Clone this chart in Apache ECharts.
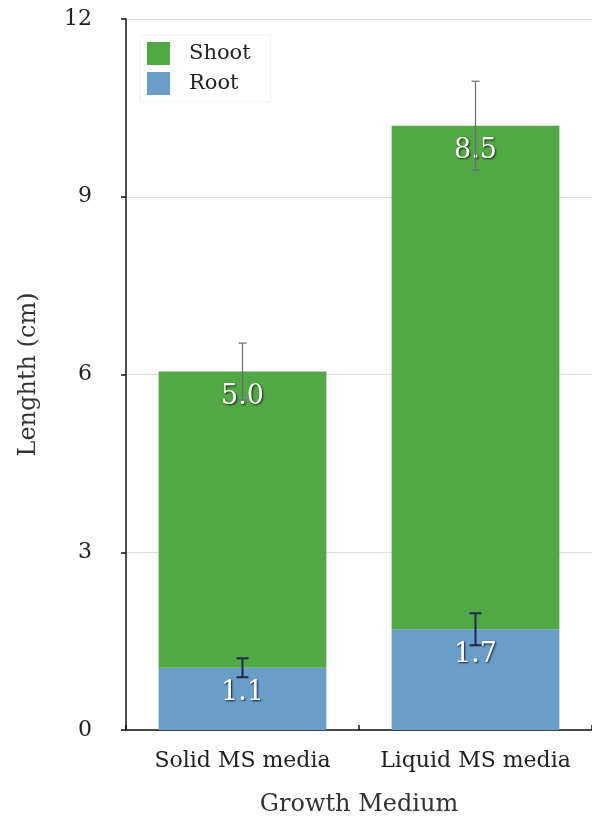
<!DOCTYPE html>
<html>
<head>
<meta charset="utf-8">
<script src="https://cdn.jsdelivr.net/npm/echarts@6/dist/echarts.min.js"></script>
<style>
  html, body { margin: 0; padding: 0; background: #fff; }
  #chart { width: 592px; height: 822px; }
</style>
</head>
<body>
<div id="chart"></div>
<script>
const categories = ['Solid MS media', 'Liquid MS media']
const rootLength = [1.05, 1.7]
const shootLength = [5.0, 8.5]
const rootErr = [0.16, 0.27]
const shootErr = [0.48, 0.75]
const yTicks = [0, 3, 6, 9, 12]

const font = 'DejaVu Serif'

// error bar data: [category, low, high, kind]
const errData = []
categories.forEach((c, i) => {
  const top = rootLength[i] + shootLength[i]
  errData.push([i, top - shootErr[i], top + shootErr[i], 0])
  errData.push([i, rootLength[i] - rootErr[i], rootLength[i] + rootErr[i], 1])
})

const chart = echarts.init(document.getElementById('chart'))

const barLabel = {
  show: true,
  position: 'insideTop',
  distance: 12,
  color: '#fff',
  fontFamily: font,
  fontSize: 27,
  textShadowColor: 'rgba(0,0,0,0.8)',
  textShadowBlur: 2,
  textShadowOffsetX: 1,
  textShadowOffsetY: 1,
  formatter: p => p.value.toFixed(1)
}

const option = {
  animation: false,
  grid: { left: 126, right: -8, top: 19, bottom: 91 },
  legend: {
    orient: 'vertical',
    left: 140,
    top: 35,
    padding: [7, 20, 7, 7],
    itemWidth: 23,
    itemHeight: 23,
    itemGap: 7,
    icon: 'rect',
    backgroundColor: '#fff',
    borderColor: '#f0f0ea',
    borderWidth: 1,
    textStyle: { fontFamily: font, fontSize: 21, color: '#222', padding: [0, 0, 0, 14] },
    data: ['Shoot', 'Root']
  },
  xAxis: {
    type: 'category',
    data: categories,
    name: 'Growth Medium',
    nameLocation: 'middle',
    nameGap: 63,
    nameTextStyle: { fontFamily: font, fontSize: 24, color: '#333' },
    axisLine: { lineStyle: { color: '#111', width: 1.5 } },
    axisTick: { show: true, length: 5, inside: true, lineStyle: { color: '#111', width: 1.5 } },
    axisLabel: { interval: 0, hideOverlap: false, fontFamily: font, fontSize: 22, color: '#222', margin: 20 }
  },
  yAxis: {
    type: 'value',
    min: 0,
    max: 12,
    interval: 3,
    name: 'Lenghth (cm)',
    nameLocation: 'middle',
    nameGap: 85,
    nameRotate: 90,
    nameTextStyle: { fontFamily: font, fontSize: 24, color: '#333' },
    axisLine: { show: true, lineStyle: { color: '#111', width: 1.5 } },
    axisTick: { show: true, length: 5, lineStyle: { color: '#111', width: 1.5 } },
    axisLabel: {
      fontFamily: font, fontSize: 22, color: '#222', margin: 34,
      formatter: v => yTicks.includes(v) ? String(v) : ''
    },
    splitLine: { lineStyle: { color: '#dedede', width: 1 } }
  },
  series: [
    {
      name: 'Root',
      type: 'bar',
      stack: 'len',
      barWidth: '72%',
      data: rootLength,
      itemStyle: { color: '#6a9dc8' },
      label: barLabel
    },
    {
      name: 'Shoot',
      type: 'bar',
      stack: 'len',
      barWidth: '72%',
      data: shootLength,
      itemStyle: { color: '#52a844' },
      label: barLabel
    },
    {
      type: 'custom',
      data: errData,
      z: 10,
      renderItem: (params, api) => {
        const x = api.value(0)
        const lo = api.coord([x, api.value(1)])
        const hi = api.coord([x, api.value(2)])
        const root = api.value(3) === 1
        const w = root ? 6 : 4
        const style = { stroke: root ? '#1c2a48' : '#6a6a78', lineWidth: root ? 2 : 1.2 }
        return {
          type: 'group',
          children: [
            { type: 'line', shape: { x1: lo[0], y1: lo[1], x2: hi[0], y2: hi[1] }, style },
            { type: 'line', shape: { x1: lo[0] - w, y1: lo[1], x2: lo[0] + w, y2: lo[1] }, style },
            { type: 'line', shape: { x1: hi[0] - w, y1: hi[1], x2: hi[0] + w, y2: hi[1] }, style }
          ]
        }
      }
    }
  ]
}

chart.setOption(option)
</script>
</body>
</html>
